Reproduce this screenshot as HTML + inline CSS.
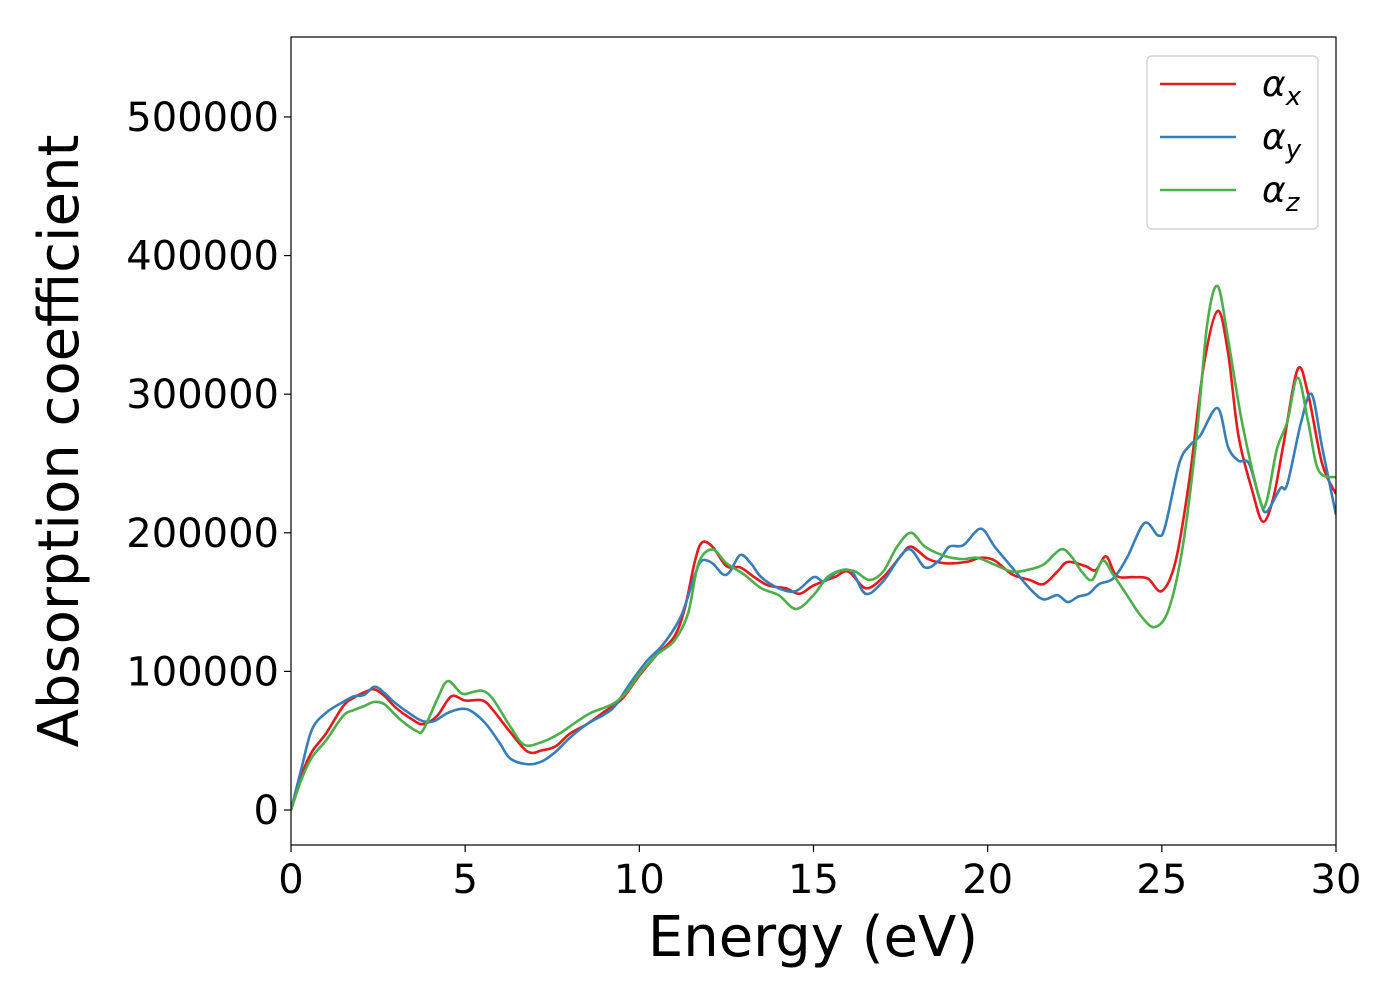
<!DOCTYPE html>
<html><head><meta charset="utf-8"><style>
html,body{margin:0;padding:0;background:#fff;}
svg{display:block;font-family:"DejaVu Sans","Liberation Sans",sans-serif;}
</style></head><body>
<svg id="chart" width="1400" height="1000">
<g id="plot"></g>
</svg>
<script>
const eX=[0,0.3,0.6,1.0,1.5,1.8,2.2,2.4,2.7,3.0,3.5,3.8,4.2,4.6,5.0,5.5,5.8,6.3,6.8,7.2,7.6,8.0,8.5,9.0,9.5,10,10.5,11.0,11.3,11.6,11.8,12.1,12.5,12.9,13.3,13.7,14.2,14.6,15.0,15.6,16.0,16.5,17.0,17.5,17.8,18.3,18.8,19.4,19.8,20.2,20.7,21.2,21.6,22.0,22.3,22.8,23.1,23.4,23.7,24.2,24.6,25.0,25.4,25.8,26.2,26.6,26.9,27.2,27.6,27.9,28.2,28.5,28.9,29.2,29.6,30];
const vX=[0,25,42,55,75,81,86,87,82,74,65,62,68,82,79,79,72,56,42,43,46,55,62,71,80,97,112,125,145,180,193,190,176,175,168,162,160,156,162,168,172,160,168,183,190,181,178,179,182,180,170,166,163,172,179,176,173,183,169,168,167,158,180,240,320,360,330,270,230,208,225,265,318,300,250,228];
const eY=[0,0.3,0.6,1.0,1.5,1.8,2.1,2.4,2.7,3.0,3.5,3.8,4.1,4.5,4.9,5.2,5.6,6.0,6.3,6.8,7.2,7.6,8.0,8.5,9.0,9.3,9.7,10.2,10.7,11.2,11.6,11.8,12.1,12.4,12.6,12.9,13.2,13.5,14.0,14.5,15.0,15.3,15.7,16.1,16.5,17.0,17.7,18.2,18.6,18.9,19.3,19.8,20.2,20.7,21.2,21.6,22.0,22.3,22.6,22.9,23.2,23.6,24.0,24.5,24.9,25.1,25.5,25.8,26.1,26.6,26.9,27.2,27.5,27.8,28.0,28.4,28.6,29.0,29.3,29.6,30];
const vY=[0,30,58,70,78,82,83,89,84,77,68,64,64,70,73,71,62,48,37,33,35,42,52,62,69,75,90,107,120,140,170,180,178,170,172,184,178,168,160,158,168,165,172,172,156,165,188,175,180,190,191,203,190,175,160,152,155,150,154,156,163,167,182,207,198,205,250,263,270,290,262,252,250,225,215,232,235,280,300,262,213];
const eZ=[0,0.3,0.6,1.0,1.5,1.8,2.1,2.4,2.7,3.1,3.6,3.8,4.2,4.5,4.9,5.2,5.5,5.8,6.3,6.7,7.2,7.7,8.1,8.6,9.2,9.6,10.0,10.5,11.0,11.4,11.7,12.1,12.5,13.0,13.5,14.0,14.5,15.0,15.4,15.8,16.2,16.6,17.0,17.4,17.8,18.2,18.8,19.3,19.7,20.2,20.7,21.1,21.6,22.1,22.4,22.7,23.0,23.3,23.6,24.0,24.4,24.8,25.2,25.6,26.0,26.3,26.6,26.9,27.3,27.8,28.0,28.3,28.6,28.9,29.2,29.5,30.0];
const vZ=[0,22,38,50,68,72,75,78,76,66,57,58,80,93,84,85,86,80,60,47,49,55,62,70,76,84,98,112,122,142,178,188,178,170,160,155,145,155,168,173,172,166,172,190,200,190,183,181,182,177,172,173,177,188,183,172,166,180,170,155,140,132,145,190,270,350,378,340,280,225,222,260,280,312,280,245,240];
const xTicks=[0,5,10,15,20,25,30];
const yTicks=[0,100000,200000,300000,400000,500000];
const seriesColors=["#e41a1c","#377eb8","#4daf4a"];

const L=291,R=1336,T=37,B=845;
const xMin=0,xMax=30,yMin=-25250,yMax=557700;
const sx=v=>L+(v-xMin)/(xMax-xMin)*(R-L);
const sy=v=>B-(v-yMin)/(yMax-yMin)*(B-T);
const NS="http://www.w3.org/2000/svg";
const svg=document.getElementById('chart');
const plot=document.getElementById('plot');
function mk(tag,attrs,parent){const el=document.createElementNS(NS,tag);for(const k in attrs)el.setAttribute(k,attrs[k]);(parent||svg).appendChild(el);return el;}

const cp=mk('clipPath',{id:'clip'});mk('rect',{x:L,y:T,width:R-L,height:B-T},cp);

function pathFor(es,vs){
  const p=es.map((e,i)=>[sx(e),sy(vs[i]*1000)]);
  let d=`M${p[0][0]},${p[0][1]}`;
  for(let i=0;i<p.length-1;i++){
    const p0=p[i-1]||p[i],p1=p[i],p2=p[i+1],p3=p[i+2]||p2;
    const c1=[p1[0]+(p2[0]-p0[0])/6,p1[1]+(p2[1]-p0[1])/6];
    const c2=[p2[0]-(p3[0]-p1[0])/6,p2[1]-(p3[1]-p1[1])/6];
    d+=` C${c1[0]},${c1[1]} ${c2[0]},${c2[1]} ${p2[0]},${p2[1]}`;
  }
  return d;
}
const series=[[eX,vX,'series-alpha-x'],[eY,vY,'series-alpha-y'],[eZ,vZ,'series-alpha-z']];
series.forEach((s,i)=>{
  const path=mk('path',{d:pathFor(s[0],s[1]),fill:'none',stroke:seriesColors[i],'stroke-width':2.6,'clip-path':'url(#clip)'},plot);
  
  
});

const frame=mk('rect',{x:L,y:T,width:R-L,height:B-T,fill:'none',stroke:'#000','stroke-width':1.2});



xTicks.forEach(t=>{
  const x=sx(t);
  const tk=mk('line',{x1:x,x2:x,y1:B,y2:B+7,stroke:'#000','stroke-width':1.2});
  
  
  const lb=mk('text',{x:x,y:B+48,'text-anchor':'middle','font-size':40});
  lb.textContent=t;
  
  
});
yTicks.forEach(t=>{
  const y=sy(t);
  const tk=mk('line',{x1:L-7,x2:L,y1:y,y2:y,stroke:'#000','stroke-width':1.2});
  
  
  const lb=mk('text',{x:L-12,y:y+14,'text-anchor':'end','font-size':40});
  lb.textContent=t;
  
  
});

const xt=mk('text',{x:813,y:956,'text-anchor':'middle','font-size':56});
xt.textContent='Energy (eV)';


const yt=mk('text',{x:0,y:0,'text-anchor':'middle','font-size':56,transform:'translate(78,441) rotate(-90)'});
yt.textContent='Absorption coefficient';



const lg=mk('g',{});


mk('rect',{x:1147,y:56,width:171,height:173,rx:5,fill:'#fff',stroke:'#ccc','stroke-width':1.2},lg);
const subs=['x','y','z'],ly=[84,137,190];
subs.forEach((s,i)=>{
  const ln=mk('line',{x1:1160,x2:1236,y1:ly[i],y2:ly[i],stroke:seriesColors[i],'stroke-width':2.6},lg);
  
  
  const tx=mk('text',{x:1262,y:ly[i]+12,'font-size':36,'font-style':'italic'},lg);
  
  
  tx.textContent='α';
  const sb=mk('tspan',{'font-size':26,dy:9},tx);
  sb.textContent=s;
});
</script>
</body></html>
